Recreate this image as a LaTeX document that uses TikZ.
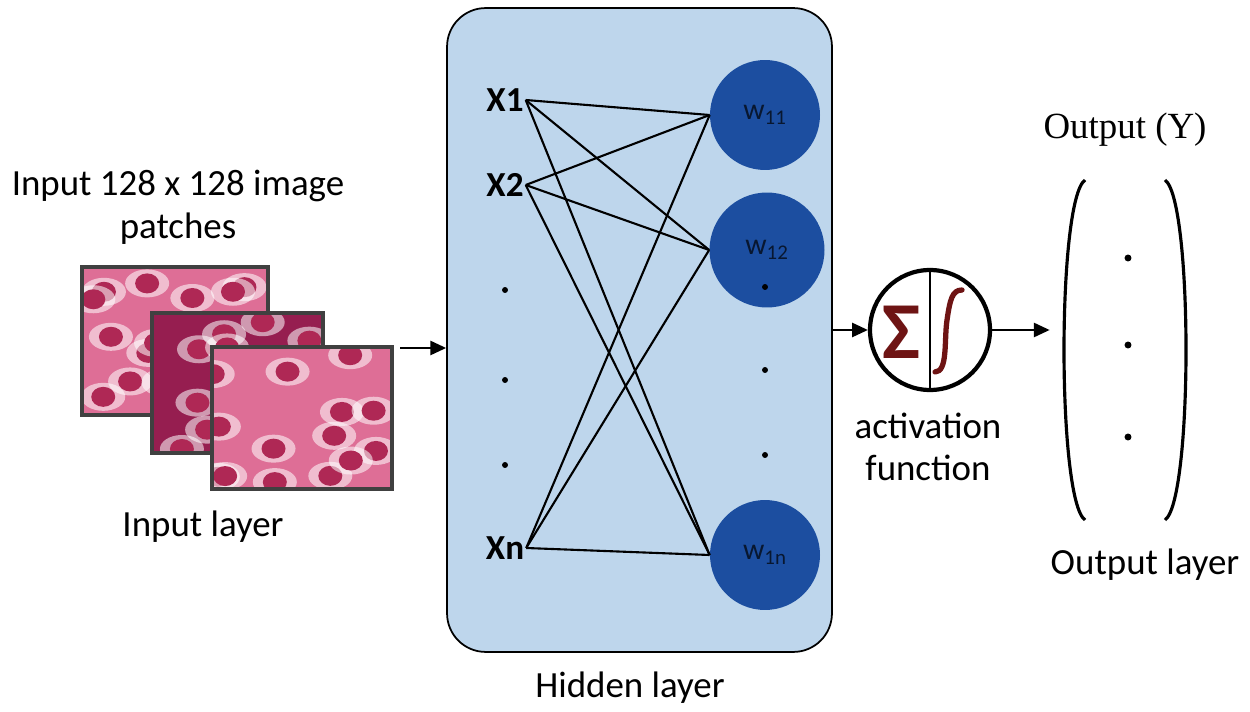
\documentclass[tikz,border=0pt]{standalone}
\usepackage{fontspec}
\setmainfont{Carlito}
\newfontfamily\serifface{Liberation Serif}
\usetikzlibrary{arrows.meta,positioning}
\definecolor{boxblue}{RGB}{190,214,236}
\definecolor{nodeblue}{RGB}{28,78,160}
\definecolor{sigred}{RGB}{110,20,20}
\definecolor{tissue}{RGB}{222,110,150}
\definecolor{tissuedark}{RGB}{150,30,80}
\definecolor{cellcol}{RGB}{175,40,85}
\tikzset{
  lbl/.style={font=\fontsize{21}{24}\selectfont},
  xin/.style={font=\fontsize{20}{22}\selectfont\bfseries, inner sep=1pt},
  neuron/.style={circle, fill=nodeblue, minimum size=22mm, inner sep=0pt, font=\fontsize{17}{18}\selectfont\color{nodeblue!30!black}},
  wire/.style={line width=1.2pt},
  arr/.style={-{Triangle[length=9pt,width=8pt]}, line width=1.4pt},
  dotty/.style={circle, fill=black, inner sep=1.4pt}
}
\begin{document}
\begin{tikzpicture}[x=0.02cm,y=-0.02cm]
        \useasboundingbox (0,0) rectangle (1250,712);

        % image patches
        \pgfmathsetseed{7}
        \foreach \xa/\ya/\xb/\yb/\col in {82/267/268/415/tissue, 152/313/323/453/tissuedark, 212/347/392/489/tissue}{
          \begin{scope}
            \clip (\xa,\ya) rectangle (\xb,\yb);
            \fill[\col] (\xa,\ya) rectangle (\xb,\yb);
            \foreach \i in {1,...,14}{
              \pgfmathsetmacro\cx{\xa+rnd*(\xb-\xa)}
              \pgfmathsetmacro\cy{\ya+rnd*(\yb-\ya)}
              \fill[white,opacity=0.55] (\cx,\cy) ellipse [x radius=22, y radius=14];
              \fill[cellcol] (\cx,\cy) ellipse [x radius=12, y radius=10];
            }
          \end{scope}
          \draw[line width=2pt, black!75] (\xa,\ya) rectangle (\xb,\yb);
        }
        \node[lbl] (intitle) at (178,186) {Input 128 x 128 image};
        \node[lbl] (intitle2) at (178,229) {patches};
        \node[lbl] (inlayer) at (203,527) {Input layer};
        \coordinate (inpatch) at (400,348);

        % hidden layer
        \node[draw, line width=1pt, fill=boxblue, rounded corners=22pt, minimum width=77mm, minimum height=128.8mm] (hidden) at (639.5,330) {};
        \node[lbl] (hidlabel) at (630,688) {Hidden layer};
        \draw[arr] (inpatch) -- (hidden.west |- inpatch);

        \node[xin] (x1) at (505,100) {X1};
        \node[xin] (x2) at (505,185) {X2};
        \node[xin] (xn) at (505,548) {Xn};
        \foreach \y in {290,380,465} \node[dotty, inner sep=1.2pt] at (505,\y) {};

        \node[neuron] (w1) at (765,115) {w\textsubscript{11}};
        \node[neuron, minimum size=23mm] (w2) at (767,250) {w\textsubscript{12}};
        \node[neuron] (wn) at (765,555) {w\textsubscript{1n}};
        \foreach \y in {287,370,455} \node[dotty, inner sep=1.2pt] at (765,\y) {};

        \foreach \a in {x1,x2,xn}
          \foreach \b in {w1,w2,wn}
            \draw[wire] (\a.east) -- (\b.west);

        % activation
        \node[circle, draw, line width=2.4pt, fill=white, minimum size=24mm, inner sep=0pt] (act) at (930,330) {};
        \draw[line width=1.3pt] (act.north) -- (act.south);
        \node[text=sigred, font=\fontsize{46}{46}\selectfont\bfseries] (sigma) at (901,332) {Σ};
        \draw[sigred, line width=3pt, line cap=round] (935,372) .. controls (948,372) and (944,340) .. (947,320)
          .. controls (950,300) and (952,290) .. (962,290);
        \draw[arr] (hidden.east |- act) -- (act.west);
        \node[lbl, align=center] (actlabel) at (928,447) {activation\\function};

        % output
        \node[minimum width=30mm, minimum height=96mm] (out) at (1125,330) {};
        \draw[arr] (act.east) -- (out.west);
        \draw[line width=1.8pt] (1085,180) .. controls (1057,200) and (1057,500) .. (1085,520);
        \draw[line width=1.8pt] (1165,180) .. controls (1193,200) and (1193,500) .. (1165,520);
        \foreach \y in {258,345,437} \node[dotty] at (1128,\y) {};
        \node[font=\fontsize{21}{22}\selectfont\serifface] (outtitle) at (1125,130) {Output (Y)};
        \node[lbl] (outlayer) at (1145,565) {Output layer};
\end{tikzpicture}
\end{document}
